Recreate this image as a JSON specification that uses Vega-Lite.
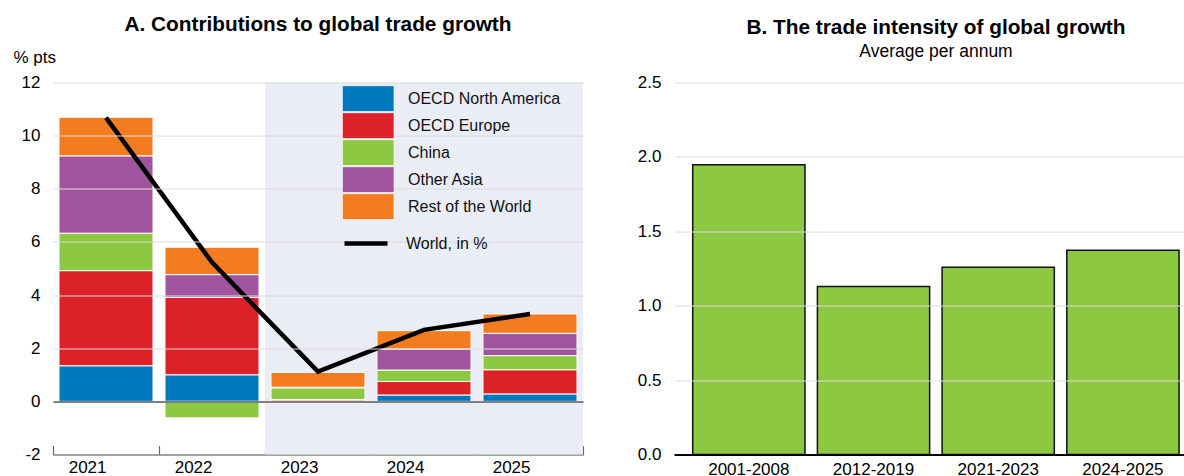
{
  "$schema": "https://vega.github.io/schema/vega-lite/v6.json",
  "padding": {"left": 13, "top": 13.5, "right": 0, "bottom": 0},
  "config": {
    "font": "Liberation Sans",
    "view": {"stroke": null},
    "axis": {"labelFontSize": 17, "labelColor": "#000", "titleColor": "#000"},
    "legend": {"labelFontSize": 16, "labelColor": "#111"}
  },
  "bounds": "flush",
  "spacing": 91,
  "datasets": {
    "contrib": [
      {"year": "2021", "region": "OECD North America", "value": 1.34},
      {"year": "2021", "region": "OECD Europe", "value": 3.58},
      {"year": "2021", "region": "China", "value": 1.41},
      {"year": "2021", "region": "Other Asia", "value": 2.91},
      {"year": "2021", "region": "Rest of the World", "value": 1.45},
      {"year": "2022", "region": "OECD North America", "value": 1.0},
      {"year": "2022", "region": "OECD Europe", "value": 2.91},
      {"year": "2022", "region": "China", "value": -0.62},
      {"year": "2022", "region": "Other Asia", "value": 0.86},
      {"year": "2022", "region": "Rest of the World", "value": 1.03},
      {"year": "2023", "region": "OECD North America", "value": 0.02},
      {"year": "2023", "region": "OECD Europe", "value": 0.05},
      {"year": "2023", "region": "China", "value": 0.44},
      {"year": "2023", "region": "Other Asia", "value": 0.02},
      {"year": "2023", "region": "Rest of the World", "value": 0.56},
      {"year": "2024", "region": "OECD North America", "value": 0.24},
      {"year": "2024", "region": "OECD Europe", "value": 0.51},
      {"year": "2024", "region": "China", "value": 0.43},
      {"year": "2024", "region": "Other Asia", "value": 0.79},
      {"year": "2024", "region": "Rest of the World", "value": 0.69},
      {"year": "2025", "region": "OECD North America", "value": 0.28},
      {"year": "2025", "region": "OECD Europe", "value": 0.91},
      {"year": "2025", "region": "China", "value": 0.53},
      {"year": "2025", "region": "Other Asia", "value": 0.84},
      {"year": "2025", "region": "Rest of the World", "value": 0.73}
    ],
    "world": [
      {"year": "2021", "value": 10.68},
      {"year": "2022", "value": 5.23},
      {"year": "2023", "value": 1.12},
      {"year": "2024", "value": 2.69},
      {"year": "2025", "value": 3.29}
    ],
    "shade": [
      {"year": "2023", "period": "projection"},
      {"year": "2024", "period": "projection"},
      {"year": "2025", "period": "projection"}
    ],
    "intensity": [
      {"period": "2001-2008", "value": 1.947},
      {"period": "2012-2019", "value": 1.129},
      {"period": "2021-2023", "value": 1.259},
      {"period": "2024-2025", "value": 1.373}
    ]
  },
  "hconcat": [
    {
      "width": 530,
      "height": 372,
      "title": {"text": "A. Contributions to global trade growth", "fontSize": 20.8, "fontWeight": "bold", "frame": "group", "anchor": "middle", "offset": 13, "color": "#000"},
      "layer": [
        {
          "data": {"name": "shade"},
          "mark": {"type": "bar", "color": "#eaedf5", "width": {"band": 1}},
          "encoding": {
            "x": {"field": "year", "type": "ordinal", "scale": {"domain": ["2021", "2022", "2023", "2024", "2025"], "paddingInner": 0, "paddingOuter": 0}},
            "y": {"datum": 12, "type": "quantitative"},
            "y2": {"datum": -2}
          }
        },
        {
          "data": {"name": "contrib"},
          "mark": {"type": "bar", "width": {"band": 0.887}, "stroke": "white", "strokeWidth": 1},
          "encoding": {
            "x": {"field": "year", "type": "ordinal", "axis": {"title": null, "labelAngle": 0, "domainColor": "#333", "domainWidth": 1.5, "tickBand": "extent", "tickColor": "#666", "tickSize": -9, "tickWidth": 1.2, "labelPadding": 22, "grid": false}},
            "y": {"field": "value", "type": "quantitative", "stack": "zero", "scale": {"domain": [-2, 12], "nice": false},
              "axis": {"values": [-2, 0, 2, 4, 6, 8, 10, 12], "labelExpr": "replace(datum.label, '\u2212', '-')", "grid": true, "gridColor": {"condition": {"test": "datum.value === 0", "value": "#808080"}, "value": "#dcdcdc"}, "gridWidth": {"condition": {"test": "datum.value === 0", "value": 2.2}, "value": 1}, "domain": false, "ticks": false, "labelPadding": 13, "zindex": 1, "title": "% pts", "titleAngle": 0, "titleX": -40, "titleY": -20, "titleAlign": "left", "titleBaseline": "alphabetic", "titleFontWeight": "normal", "titleFontSize": 17}},
            "order": {"field": "year", "type": "ordinal"},
            "color": {"field": "region", "type": "nominal",
              "sort": ["OECD North America", "OECD Europe", "China", "Other Asia", "Rest of the World"],
              "scale": {"domain": ["OECD North America", "OECD Europe", "China", "Other Asia", "Rest of the World"], "range": ["#0078be", "#dc2228", "#8cc841", "#a0559e", "#f47c20"]},
              "legend": {"orient": "none", "legendX": 288.7, "legendY": 3, "title": null, "symbolType": "M-1,-1H3V1H-1Z", "symbolSize": 676, "symbolStrokeColor": "white", "symbolStrokeWidth": 1, "symbolOpacity": 1, "labelOffset": 39.3, "rowPadding": 0, "clipHeight": 26.3}}
          }
        },
        {
          "data": {"name": "world"},
          "mark": {"type": "line", "strokeWidth": 4.5},
          "encoding": {
            "x": {"field": "year", "type": "ordinal"},
            "y": {"field": "value", "type": "quantitative"},
            "stroke": {"datum": "World, in %", "scale": {"range": ["#000000"]},
              "legend": {"orient": "none", "legendX": 289, "legendY": 137, "title": null, "symbolType": "stroke", "symbolSize": 1849, "symbolStrokeWidth": 4.5, "labelOffset": 16}}
          }
        }
      ]
    },
    {
      "width": 510,
      "height": 372,
      "title": {"text": "B. The trade intensity of global growth", "subtitle": "Average per annum", "fontSize": 20.8, "fontWeight": "bold", "subtitleFontSize": 17.5, "subtitleColor": "#000", "subtitlePadding": 4, "frame": "group", "anchor": "middle", "offset": 12, "dx": 7, "color": "#000"},
      "data": {"name": "intensity"},
      "mark": {"type": "bar", "color": "#8cc841", "stroke": "#111", "strokeWidth": 1.5},
      "encoding": {
        "x": {"field": "period", "type": "ordinal", "sort": null, "scale": {"paddingInner": 0.1, "paddingOuter": 0.095, "align": 0.79},
          "axis": {"title": null, "labelAngle": 0, "ticks": false, "domain": false, "labelPadding": 7}},
        "y": {"field": "value", "type": "quantitative", "scale": {"domain": [0, 2.5], "nice": false},
          "axis": {"values": [0, 0.5, 1, 1.5, 2, 2.5], "format": ".1f", "title": null, "grid": true, "gridColor": {"condition": {"test": "datum.value === 0", "value": "#000"}, "value": "#dcdcdc"}, "gridWidth": {"condition": {"test": "datum.value === 0", "value": 2.2}, "value": 1}, "domain": false, "ticks": false, "labelPadding": 13, "zindex": 1}}
      }
    }
  ]
}
